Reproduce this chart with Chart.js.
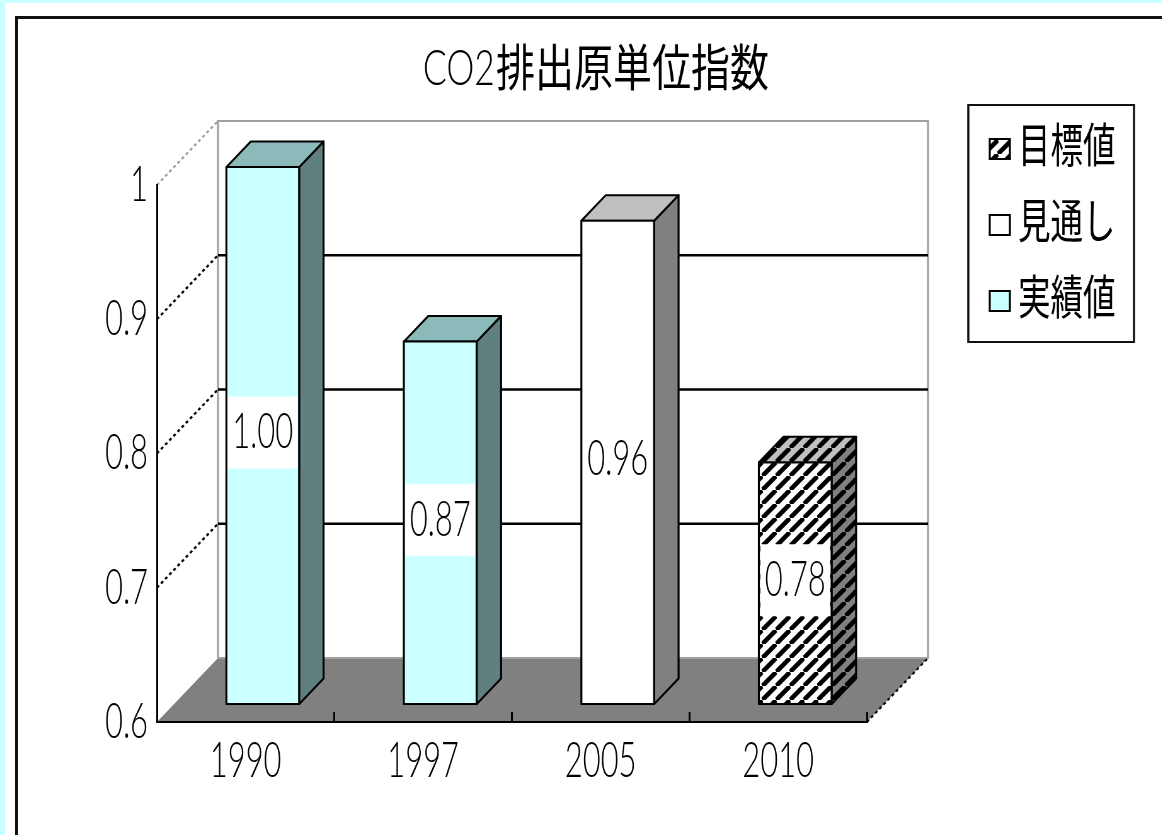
<!DOCTYPE html>
<html>
<head>
<meta charset="utf-8">
<title>CO2排出原単位指数</title>
<script src="https://cdn.jsdelivr.net/npm/chart.js@4/dist/chart.umd.min.js"></script>
<style>
  html, body { margin: 0; padding: 0; overflow: hidden; background: #ccffff; }
  #sheet { position: absolute; left: 5px; top: 3px; width: 1200px; height: 900px; background: #fff; }
  #frame { position: absolute; left: 15px; top: 16px; width: 1200px; height: 900px;
           border-left: 3px solid #111; border-top: 3px solid #111; }
  /* the canvas is drawn wide and squeezed so the digits come out narrow */
  #wrap { position: absolute; left: 0; top: 0; transform: scaleX(0.63); transform-origin: 0 0; }
</style>
</head>
<body>
<div id="sheet"></div>
<div id="frame"></div>
<div id="wrap"><canvas id="chart" width="1845" height="835"></canvas></div>
<script>
const SQUEEZE = 0.63;

// Index values per year
const years = ['1990', '1997', '2005', '2010'];
const actualValues = [1.00, 0.87, null, null];   // 実績値
const outlookValues = [null, null, 0.96, null];  // 見通し
const targetValues = [null, null, null, 0.78];   // 目標値
const seriesLabels = ['実績値', '見通し', '目標値'];
const yMin = 0.6;
const yMax = 1.0;
const yStep = 0.1;
const titleText = 'CO2排出原単位指数';

const NUM_FONT = 'Lato, "Liberation Sans", sans-serif';
const JP_FONT = '"Noto Sans CJK JP", sans-serif';

// depth of the floor/walls and where the columns sit inside it
const DEPTH = { x: 97, y: -64 };
const BAR_FRONT = 0.28;
const BAR_DEPTH = 0.4;

function hatch(base) {
  const w = 22, h = 14;
  const c = document.createElement('canvas');
  c.width = w; c.height = h;
  const g = c.getContext('2d');
  g.fillStyle = base;
  g.fillRect(0, 0, w, h);
  g.strokeStyle = '#000';
  g.lineWidth = 5.5;
  g.beginPath();
  for (let k = -1; k <= 1; k++) {
    g.moveTo(k * w, h);
    g.lineTo(k * w + w, 0);
  }
  g.stroke();
  return g.createPattern(c, 'repeat');
}

const faces = [
  { front: '#ccffff', side: '#608080', top: '#8cbaba' },
  { front: '#ffffff', side: '#808080', top: '#c0c0c0' },
  { front: hatch('#ffffff'), side: hatch('#808080'), top: hatch('#c0c0c0') }
];

// stroke with a round pen after the horizontal squeeze
function strokeEven(ctx) {
  ctx.save();
  ctx.scale(1 / SQUEEZE, 1);
  ctx.stroke();
  ctx.restore();
}

function line(ctx, x1, y1, x2, y2) {
  ctx.beginPath();
  ctx.moveTo(x1, y1);
  ctx.lineTo(x2, y2);
  strokeEven(ctx);
}

function poly(ctx, pts, fill) {
  ctx.beginPath();
  ctx.moveTo(pts[0][0], pts[0][1]);
  for (let i = 1; i < pts.length; i++) ctx.lineTo(pts[i][0], pts[i][1]);
  ctx.closePath();
  if (fill) {
    ctx.fillStyle = fill;
    ctx.fill();
  }
  strokeEven(ctx);
}

// text drawn with its own width factor on top of the squeeze
function wideText(ctx, txt, x, y, k) {
  ctx.save();
  ctx.scale(k, 1);
  ctx.fillText(txt, x / k, y);
  ctx.restore();
}

// Columns as boxes with the floor and back wall behind them
const box3d = {
  id: 'box3d',
  beforeDraw(chart) {
    const { ctx, chartArea: a, scales: { y } } = chart;
    const dx = DEPTH.x, dy = DEPTH.y;
    const yb = y.getPixelForValue(yMin);
    const yt = y.getPixelForValue(yMax);
    ctx.save();

    // floor
    ctx.fillStyle = '#808080';
    ctx.beginPath();
    ctx.moveTo(a.left, yb);
    ctx.lineTo(a.right, yb);
    ctx.lineTo(a.right + dx, yb + dy);
    ctx.lineTo(a.left + dx, yb + dy);
    ctx.closePath();
    ctx.fill();

    // back wall
    ctx.strokeStyle = '#a0a0a0';
    ctx.lineWidth = 2;
    poly(ctx, [[a.left + dx, yt + dy], [a.right + dx, yt + dy], [a.right + dx, yb + dy], [a.left + dx, yb + dy]]);

    y.ticks.forEach(t => {
      if (t.value <= yMin + 1e-6 || t.value >= yMax - 1e-6) return;
      const py = y.getPixelForValue(t.value);
      ctx.setLineDash([]);
      ctx.strokeStyle = '#000';
      ctx.lineWidth = 2.5;
      line(ctx, a.left + dx, py + dy, a.right + dx, py + dy);
      ctx.lineWidth = 2.2;
      ctx.setLineDash([3, 3]);
      line(ctx, a.left, py, a.left + dx, py + dy);
    });

    ctx.setLineDash([3, 3]);
    ctx.lineWidth = 2;
    ctx.strokeStyle = '#999';
    line(ctx, a.left, yt, a.left + dx, yt + dy);
    ctx.strokeStyle = '#000';
    line(ctx, a.right, yb, a.right + dx, yb + dy);
    ctx.restore();
  },

  beforeDatasetsDraw(chart) {
    const { ctx, scales: { y } } = chart;
    const fx = BAR_FRONT * DEPTH.x, fy = BAR_FRONT * DEPTH.y;
    const bx = BAR_DEPTH * DEPTH.x, by = BAR_DEPTH * DEPTH.y;
    ctx.save();
    ctx.strokeStyle = '#000';
    ctx.lineWidth = 2;
    ctx.lineJoin = 'round';
    chart.data.datasets.forEach((ds, i) => {
      const meta = chart.getDatasetMeta(i);
      const f = faces[i];
      meta.data.forEach((bar, j) => {
        if (ds.data[j] == null) return;
        const L = bar.x - bar.width / 2 + fx;
        const R = L + bar.width;
        const T = bar.y + fy;
        const B = y.getPixelForValue(yMin) + fy;
        poly(ctx, [[R, T], [R + bx, T + by], [R + bx, B + by], [R, B]], f.side);
        poly(ctx, [[L, T], [L + bx, T + by], [R + bx, T + by], [R, T]], f.top);
        poly(ctx, [[L, T], [R, T], [R, B], [L, B]], f.front);
      });
    });
    ctx.restore();
    return false;
  },

  afterDraw(chart) {
    const { ctx, scales: { y } } = chart;
    const fx = BAR_FRONT * DEPTH.x, fy = BAR_FRONT * DEPTH.y;
    ctx.save();

    // value labels on the columns
    ctx.font = '300 49px ' + NUM_FONT;
    ctx.textAlign = 'center';
    ctx.textBaseline = 'middle';
    chart.data.datasets.forEach((ds, i) => {
      const meta = chart.getDatasetMeta(i);
      meta.data.forEach((bar, j) => {
        const v = ds.data[j];
        if (v == null) return;
        const cx = bar.x + fx;
        const cy = (bar.y + y.getPixelForValue(yMin)) / 2 + fy - 3;
        const txt = v.toFixed(2);
        const w = ctx.measureText(txt).width + 14;
        ctx.fillStyle = '#fff';
        ctx.fillRect(cx - w / 2, cy - 36, w, 72);
        ctx.fillStyle = '#000';
        ctx.fillText(txt, cx, cy);
      });
    });

    // title: latin part and kanji part set at their own widths, centred together
    ctx.textAlign = 'left';
    ctx.textBaseline = 'alphabetic';
    const latin = titleText.match(/^[\x00-\x7f]*/)[0];
    const kanji = titleText.slice(latin.length);
    const kLatin = 0.72 / SQUEEZE, kKanji = 0.78 / SQUEEZE;
    const latinFont = '300 49px ' + NUM_FONT, kanjiFont = '50px ' + JP_FONT;
    ctx.font = latinFont;
    const w0 = ctx.measureText(latin).width * kLatin + 2;
    ctx.font = kanjiFont;
    const w1 = ctx.measureText(kanji).width * kKanji;
    const x0 = 946 - (w0 + w1) / 2;
    ctx.font = latinFont;
    wideText(ctx, latin, x0, 85, kLatin);
    ctx.font = kanjiFont;
    wideText(ctx, kanji, x0 + w0, 86, kKanji);

    // legend, last series first
    const lg = { left: 1537, top: 105, width: 263, height: 237 };
    ctx.strokeStyle = '#111';
    ctx.lineWidth = 2.2;
    poly(ctx, [[lg.left, lg.top], [lg.left + lg.width, lg.top],
               [lg.left + lg.width, lg.top + lg.height], [lg.left, lg.top + lg.height]]);
    ctx.font = '47px ' + JP_FONT;
    ctx.textBaseline = 'middle';
    ctx.lineWidth = 2;
    const order = chart.data.datasets.map((d, i) => i).reverse();
    order.forEach((i, row) => {
      const cy = 149 + row * 76;
      ctx.strokeStyle = '#000';
      poly(ctx, [[1571, cy - 10], [1603, cy - 10], [1603, cy + 10], [1571, cy + 10]], faces[i].front);
      ctx.fillStyle = '#000';
      wideText(ctx, chart.data.datasets[i].label, 1616, cy - 5, 0.69 / SQUEEZE);
    });
    ctx.restore();
  }
};

new Chart(document.getElementById('chart'), {
  type: 'bar',
  data: {
    labels: years,
    datasets: [
      { label: seriesLabels[0], data: actualValues, backgroundColor: faces[0].front },
      { label: seriesLabels[1], data: outlookValues, backgroundColor: faces[1].front },
      { label: seriesLabels[2], data: targetValues, backgroundColor: faces[2].front }
    ]
  },
  options: {
    responsive: false,
    animation: false,
    layout: { padding: { left: 0, top: 185, right: 469, bottom: 0 } },
    datasets: { bar: { barPercentage: 0.41, categoryPercentage: 1 } },
    plugins: {
      legend: { display: false },
      title: { display: false },
      tooltip: { enabled: false }
    },
    scales: {
      x: {
        stacked: true,
        grid: { drawOnChartArea: false, drawTicks: true, tickLength: -10, color: '#000', lineWidth: 3 },
        border: { display: true, color: '#000', width: 2 },
        ticks: { color: '#000', padding: 20, font: { family: NUM_FONT, size: 49, weight: 300 } },
        afterFit(scale) { scale.height = 113; }
      },
      y: {
        min: yMin,
        max: yMax,
        grid: { display: false, drawTicks: false },
        border: { display: true, color: '#000', width: 3 },
        ticks: {
          stepSize: yStep,
          padding: 14,
          color: '#000',
          font: { family: NUM_FONT, size: 49, weight: 300 },
          callback: v => String(Math.round(v * 10) / 10)
        },
        afterFit(scale) { scale.width = 249; }
      }
    }
  },
  plugins: [box3d]
});
</script>
</body>
</html>
